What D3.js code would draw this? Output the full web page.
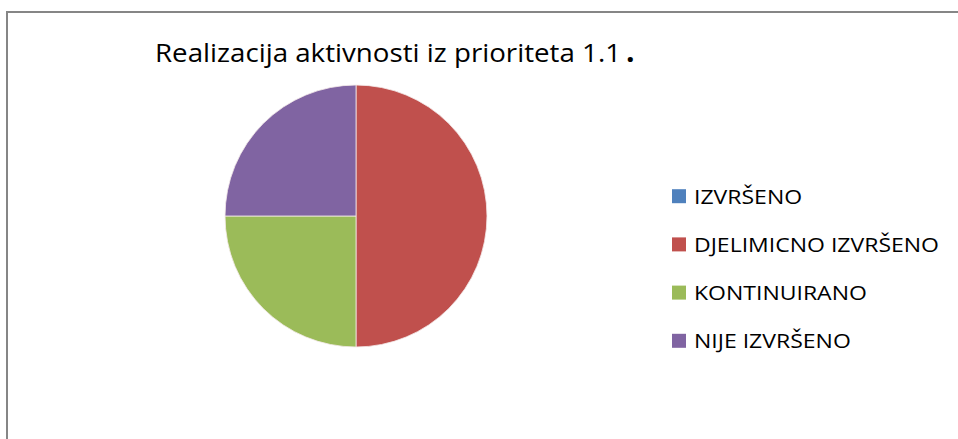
<!DOCTYPE html>
<html>
<head>
<meta charset="utf-8">
<script src="https://cdn.jsdelivr.net/npm/d3@7"></script>
<style>
  html, body { margin: 0; padding: 0; background: #fff; }
  svg { display: block; }
</style>
</head>
<body>
<script>
const categories = ["IZVRŠENO", "DJELIMICNO IZVRŠENO", "KONTINUIRANO", "NIJE IZVRŠENO"];
const values = [0, 2, 1, 1];
const colors = ["#4F81BD", "#C0504D", "#9BBB59", "#8064A2"];
const titleText = "Realizacija aktivnosti iz prioriteta 1.1";
const titleEnd = ".";

const W = 958, H = 439;
const svg = d3.select("body").append("svg").attr("width", W).attr("height", H);

// chart area border (extends beyond viewport on right/bottom)
svg.append("rect")
  .attr("x", 7).attr("y", 12)
  .attr("width", 1000).attr("height", 500)
  .attr("fill", "#fff")
  .attr("stroke", "#868686").attr("stroke-width", 2);

const font = "'Open Sans', 'Noto Sans', sans-serif";

// title
const title = svg.append("text")
  .attr("x", 155).attr("y", 62)
  .attr("font-family", font).attr("font-size", 25).attr("fill", "#000");
const tMain = title.append("tspan").text(titleText);
const natural = tMain.node().getComputedTextLength();
tMain.attr("textLength", 466).attr("lengthAdjust", "spacingAndGlyphs");
svg.append("text")
  .attr("x", 626).attr("y", 62)
  .attr("font-family", font).attr("font-size", 30).attr("font-weight", "bold")
  .attr("fill", "#000").text(titleEnd);

// pie
const cx = 356, cy = 216, r = 131;
const pie = d3.pie().sort(null).value(d => d.v);
const arc = d3.arc().innerRadius(0).outerRadius(r);
const data = categories.map((c, i) => ({ c, v: values[i], col: colors[i] }));
const g = svg.append("g").attr("transform", `translate(${cx},${cy})`);
g.selectAll("path")
  .data(pie(data).filter(d => d.data.v > 0))
  .join("path")
  .attr("d", arc)
  .attr("fill", d => d.data.col)
  .attr("stroke", "#f4eaea").attr("stroke-width", 0.8);

// legend
const legendY = d3.scaleLinear().domain([0, 3]).range([203.7, 348.3]);
const lg = svg.append("g");
const items = lg.selectAll("g").data(data).join("g")
  .attr("transform", (d, i) => `translate(0,${legendY(i)})`);
items.append("rect")
  .attr("x", 672).attr("y", -14.5).attr("width", 14).attr("height", 14)
  .attr("fill", d => d.col);
const texts = items.append("text")
  .attr("x", 694).attr("y", 0)
  .attr("font-family", font).attr("font-size", 20).attr("fill", "#000")
  .text(d => d.c);
// fit width using widest label reference
const refW = texts.filter(d => d.c === "DJELIMICNO IZVRŠENO").node().getComputedTextLength();
const k = 245 / refW;
texts.each(function() {
  const w = this.getComputedTextLength();
  d3.select(this).attr("textLength", w * k).attr("lengthAdjust", "spacingAndGlyphs");
});
</script>
</body>
</html>
